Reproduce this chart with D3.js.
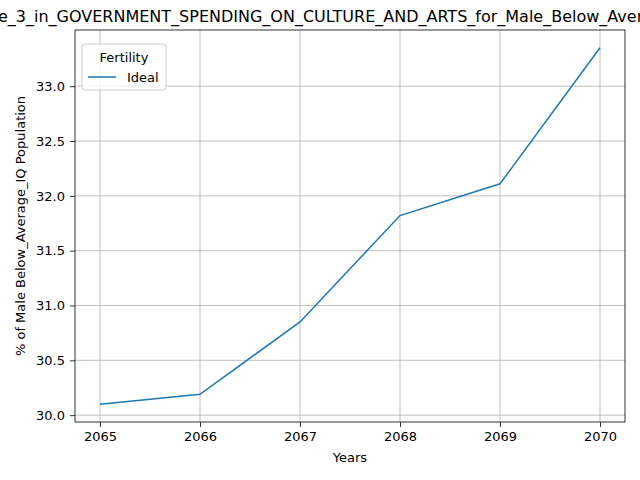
<!DOCTYPE html>
<html><head><meta charset="utf-8">
<script src="https://cdn.jsdelivr.net/npm/d3@7"></script>
<style>body{margin:0;background:#fff}svg{font-family:"DejaVu Sans",sans-serif}</style>
</head><body>
<svg id="c" width="640" height="480"></svg>
<script>
const years = [2065, 2066, 2067, 2068, 2069, 2070];
const ideal = [30.10, 30.19, 30.85, 31.82, 32.11, 33.35];
const yTicks = [30.0, 30.5, 31.0, 31.5, 32.0, 32.5, 33.0];
const title = "Figure_3_in_GOVERNMENT_SPENDING_ON_CULTURE_AND_ARTS_for_Male_Below_Average";

const svg = d3.select('#c');
const L = 75, R = 625, T = 30, B = 422;
const x = d3.scaleLinear().domain([2064.75, 2070.25]).range([L, R]);
const y = d3.scaleLinear().domain([29.9375, 33.5125]).range([B, T]);

// grid
svg.append('g').selectAll('line').data(years).join('line')
  .attr('x1', d => x(d)).attr('x2', d => x(d)).attr('y1', T).attr('y2', B)
  .attr('stroke', '#b0b0b0').attr('stroke-width', 0.8);
svg.append('g').selectAll('line').data(yTicks).join('line')
  .attr('x1', L).attr('x2', R).attr('y1', d => y(d)).attr('y2', d => y(d))
  .attr('stroke', '#b0b0b0').attr('stroke-width', 0.8);

// axes
const xa = svg.append('g').attr('transform', `translate(0,${B})`)
  .call(d3.axisBottom(x).tickValues(years).tickFormat(d3.format('d')).tickSize(5).tickPadding(5));
const ya = svg.append('g').attr('transform', `translate(${L},0)`)
  .call(d3.axisLeft(y).tickValues(yTicks).tickFormat(d3.format('.1f')).tickSize(5).tickPadding(5));
[xa, ya].forEach(a => {
  a.select('.domain').remove();
  a.selectAll('text').attr('font-size', 13).attr('fill', '#000').attr('font-family', 'DejaVu Sans');
  a.selectAll('line').attr('stroke', '#000').attr('stroke-width', 0.8);
});
svg.append('rect').attr('x', L).attr('y', T).attr('width', R - L).attr('height', B - T)
  .attr('fill', 'none').attr('stroke', '#000').attr('stroke-width', 0.8);

// line
svg.append('path').datum(years.map((d, i) => [d, ideal[i]]))
  .attr('d', d3.line().x(d => x(d[0])).y(d => y(d[1])))
  .attr('fill', 'none').attr('stroke', '#1f77b4').attr('stroke-width', 1.5);

// labels
svg.append('text').attr('x', 316).attr('y', 22).attr('text-anchor', 'middle')
  .attr('font-size', 16).text(title);
svg.append('text').attr('x', (L + R) / 2).attr('y', 462).attr('text-anchor', 'middle')
  .attr('font-size', 13).text('Years');
svg.append('text').attr('transform', `translate(25,${(T + B) / 2}) rotate(-90)`)
  .attr('text-anchor', 'middle').attr('font-size', 13).text('% of Male Below_Average_IQ Population');

// legend
const lg = svg.append('g');
lg.append('rect').attr('x', 82).attr('y', 44).attr('width', 84).attr('height', 46).attr('rx', 3)
  .attr('fill', '#fff').attr('fill-opacity', 0.8).attr('stroke', '#ccc');
lg.append('text').attr('x', 124).attr('y', 62).attr('text-anchor', 'middle').attr('font-size', 13).text('Fertility');
lg.append('line').attr('x1', 88).attr('x2', 116).attr('y1', 77).attr('y2', 77)
  .attr('stroke', '#1f77b4').attr('stroke-width', 1.5);
lg.append('text').attr('x', 127).attr('y', 82).attr('font-size', 13).text('Ideal');
</script>
</body></html>
